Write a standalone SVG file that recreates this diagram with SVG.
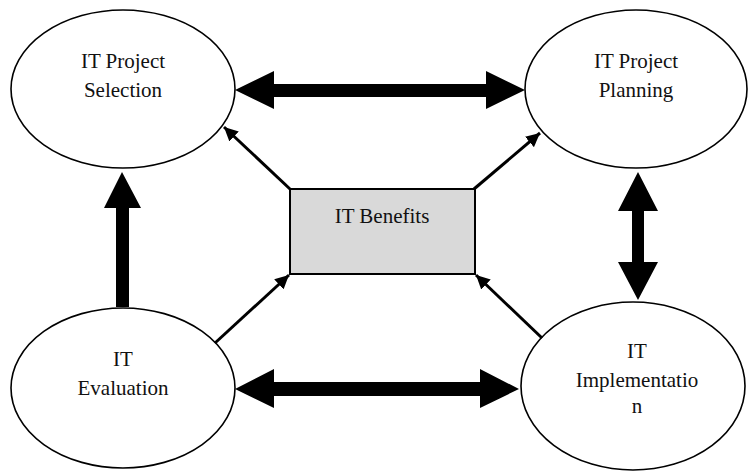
<svg xmlns="http://www.w3.org/2000/svg" width="748" height="472" viewBox="0 0 748 472">
<style>
.node ellipse{fill:#fff;stroke:#000;stroke-width:1.6}
.node rect{fill:#d9d9d9;stroke:#000;stroke-width:2}
text{font-family:"Liberation Serif","Times New Roman",serif;font-size:21px;fill:#111;text-anchor:middle}
.thin{stroke:#000;stroke-width:3;fill:none;marker-end:url(#ah)}
.block{fill:#000;stroke:none}
</style>
<defs>
<marker id="ah" viewBox="0 0 10 10" refX="10" refY="5" markerWidth="4.6" markerHeight="4.6" orient="auto" markerUnits="strokeWidth">
<path d="M0,0 L10,5 L0,10 Z" fill="#000"/>
</marker>
</defs>
<rect width="748" height="472" fill="#fff"/>
<g id="sel" class="node">
<ellipse cx="123" cy="89" rx="112" ry="79"/>
<text x="123" y="68">IT Project</text>
<text x="123" y="97">Selection</text>
</g>
<g id="plan" class="node">
<ellipse cx="636" cy="89" rx="111" ry="79"/>
<text x="636" y="68">IT Project</text>
<text x="636" y="97">Planning</text>
</g>
<g id="eval" class="node">
<ellipse cx="123" cy="388" rx="112" ry="80"/>
<text x="123" y="366">IT</text>
<text x="123" y="395">Evaluation</text>
</g>
<g id="impl" class="node">
<ellipse cx="633" cy="386" rx="112" ry="84"/>
<text x="637" y="358">IT</text>
<text x="637" y="387">Implementatio</text>
<text x="637" y="413">n</text>
</g>
<g id="ben" class="node">
<rect x="290" y="189" width="185" height="85"/>
<text x="382" y="223">IT Benefits</text>
</g>
<g id="connectors">
<polygon class="block" points="235,90 274,71 274,84 486,84 486,71 525,90 486,109 486,97 274,97 274,109"/>
<polygon class="block" points="235,389 274,369 274,382 480,382 480,369 519,389 480,408 480,396 274,396 274,408"/>
<polygon class="block" points="638,172 658,211 644,211 644,262 658,262 638,300 618,262 632,262 632,211 618,211"/>
<polygon class="block" points="122,172 141,208 129,208 129,307 116,307 116,208 104,208"/>
<line class="thin" x1="290" y1="189" x2="224" y2="127"/>
<line class="thin" x1="474" y1="189" x2="540" y2="133"/>
<line class="thin" x1="215" y1="343" x2="289" y2="275"/>
<line class="thin" x1="542" y1="338" x2="476" y2="275"/>
</g>
</svg>
